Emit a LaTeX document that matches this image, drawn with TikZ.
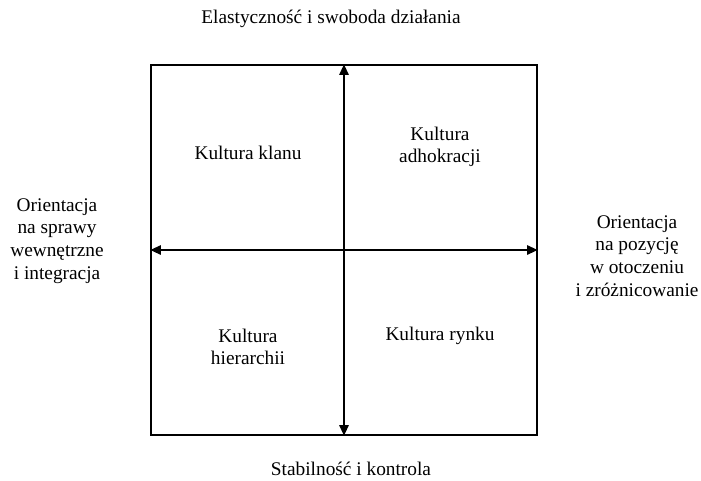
\documentclass[tikz,border=0pt]{standalone}
\usepackage{fontspec}
\setmainfont{Liberation Serif}
\usetikzlibrary{arrows.meta}
\begin{document}
\begin{tikzpicture}[x=0.75pt,y=-0.75pt,
  lbl/.style={font=\fontsize{14.5pt}{17pt}\selectfont, align=center, inner sep=0pt},
  axis/.style={line width=1.4pt, {Triangle[length=8pt,width=7pt]}-{Triangle[length=8pt,width=7pt]}},
  frame/.style={draw, line width=1.1pt}]
\useasboundingbox (0,0) rectangle (701,480);
\node[frame, minimum width=386*0.75pt, minimum height=370*0.75pt, inner sep=0pt] (box) at (344,250) {};
\draw[axis] (box.south) -- (box.north);
\draw[axis] (box.west) -- (box.east);
\node[lbl] (top) at (331,19) {Elastyczność i swoboda działania};
\node[lbl] (bot) at (351,469) {Stabilność i kontrola};
\node[lbl] (kl) at (248,153) {Kultura klanu};
\node[lbl] (ka) at (440,147) {Kultura\\adhokracji};
\node[lbl] (kh) at (248,347) {Kultura\\hierarchii};
\node[lbl] (kr) at (440,336) {Kultura rynku};
\node[lbl] (left) at (57,241) {Orientacja\\na sprawy\\wewnętrzne\\i integracja};
\node[lbl] (right) at (637,256) {Orientacja\\na pozycję\\w otoczeniu\\i zróżnicowanie};
\end{tikzpicture}
\end{document}
